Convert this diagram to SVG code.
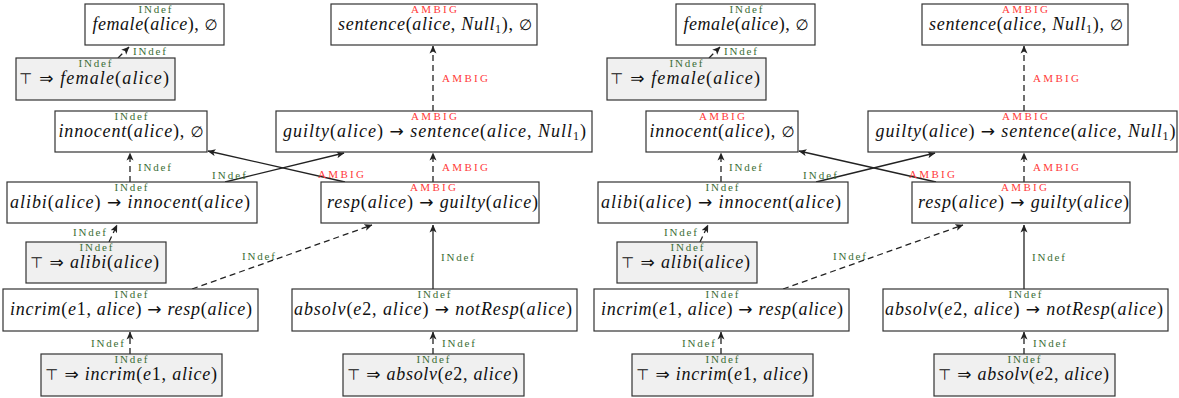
<svg xmlns="http://www.w3.org/2000/svg" width="1179" height="398" viewBox="0 0 1179 398">
<style>
.box{fill:#fff;stroke:#333;stroke-width:1.2}
.fact{fill:#f0f0f0}
.t{font-family:"Liberation Serif","DejaVu Serif",serif;font-size:18px;font-style:italic;fill:#111;text-anchor:middle}
.u{font-style:normal}
.s{font-style:normal;font-family:"DejaVu Sans",sans-serif;font-size:15px}
.a{font-style:normal;font-family:"DejaVu Sans",sans-serif;font-size:17px}
.l{font-family:"Liberation Serif","DejaVu Serif",serif;font-size:11px;fill:#3b6e35}
.r{fill:#ff3a3a}
.c{text-anchor:middle}
.e{stroke:#222;stroke-width:1.3;fill:none;marker-end:url(#ah)}
.d{stroke-dasharray:6 4}
</style>
<defs>
<marker id="ah" viewBox="0 0 8 8" refX="7.5" refY="4" markerWidth="8" markerHeight="8" markerUnits="userSpaceOnUse" orient="auto">
<path d="M0,0.5 L8,4 L0,7.5 L2,4 Z" fill="#222"/>
</marker>
</defs>

<!-- LEFT PANEL -->
<g id="connectors-left">
<line class="e d" x1="118" y1="58" x2="129" y2="47"/>
<text class="l" x="133" y="55" textLength="33">INdef</text>
<line class="e d" x1="433" y1="111" x2="433" y2="46"/>
<text class="l r" x="442" y="82" textLength="46">AMBIG</text>
<line class="e d" x1="130" y1="182" x2="130" y2="153"/>
<text class="l" x="138" y="171" textLength="33">INdef</text>
<line class="e d" x1="433" y1="182" x2="433" y2="153"/>
<text class="l r" x="442" y="171" textLength="46">AMBIG</text>
<line class="e" x1="225" y1="182" x2="344" y2="153"/>
<text class="l" x="212" y="179" textLength="34">INdef</text>
<line class="e" x1="345" y1="182" x2="208" y2="151"/>
<text class="l r" x="318" y="178" textLength="46">AMBIG</text>
<line class="e d" x1="109" y1="242" x2="117" y2="225"/>
<text class="l" x="73" y="236" textLength="33">INdef</text>
<line class="e d" x1="192" y1="289" x2="372" y2="225"/>
<text class="l" x="242" y="260" textLength="33">INdef</text>
<line class="e" x1="433" y1="289" x2="433" y2="225"/>
<text class="l" x="441" y="261" textLength="33">INdef</text>
<line class="e d" x1="130" y1="354" x2="130" y2="332"/>
<text class="l" x="91" y="347" textLength="33">INdef</text>
<line class="e d" x1="433" y1="354" x2="433" y2="332"/>
<text class="l" x="442" y="347" textLength="33">INdef</text>
</g>

<g id="L-female">
<rect class="box" x="85" y="4" width="139" height="41"/>
<text class="l c" x="155" y="13" textLength="33">INdef</text>
<text class="t" x="155" y="30" textLength="125" lengthAdjust="spacing">female<tspan class="u">(</tspan>alice<tspan class="u">), </tspan><tspan class="s">∅</tspan></text>
</g>
<g id="L-top-female">
<rect class="box fact" x="16" y="58" width="159" height="42"/>
<text class="l c" x="95" y="67" textLength="33">INdef</text>
<text class="t" x="94" y="84" textLength="150" lengthAdjust="spacing"><tspan class="s">⊤ </tspan><tspan class="a">⇒</tspan><tspan class="u"> </tspan>female<tspan class="u">(</tspan>alice<tspan class="u">)</tspan></text>
</g>
<g id="L-sentence">
<rect class="box" x="331" y="4" width="206" height="41"/>
<text class="l r c" x="434" y="13" textLength="46">AMBIG</text>
<text class="t" x="435" y="30" textLength="194" lengthAdjust="spacing">sentence<tspan class="u">(</tspan>alice<tspan class="u">, </tspan>Null<tspan class="u" font-size="12" dy="3">1</tspan><tspan class="u" dy="-3">), </tspan><tspan class="s">∅</tspan></text>
</g>
<g id="L-innocent">
<rect class="box" x="55" y="111" width="152" height="41"/>
<text class="l c" x="131" y="120" textLength="33">INdef</text>
<text class="t" x="131" y="137" textLength="145" lengthAdjust="spacing">innocent<tspan class="u">(</tspan>alice<tspan class="u">), </tspan><tspan class="s">∅</tspan></text>
</g>
<g id="L-guilty">
<rect class="box" x="276" y="111" width="316" height="41"/>
<text class="l r c" x="434" y="120" textLength="46">AMBIG</text>
<text class="t" x="434.5" y="137" textLength="303" lengthAdjust="spacing">guilty<tspan class="u">(</tspan>alice<tspan class="u">) </tspan><tspan class="a">→</tspan><tspan class="u"> </tspan>sentence<tspan class="u">(</tspan>alice<tspan class="u">, </tspan>Null<tspan class="u" font-size="12" dy="3">1</tspan><tspan class="u" dy="-3">)</tspan></text>
</g>
<g id="L-alibi-rule">
<rect class="box" x="7" y="182" width="250" height="41"/>
<text class="l c" x="131" y="191" textLength="33">INdef</text>
<text class="t" x="130" y="208" textLength="240" lengthAdjust="spacing">alibi<tspan class="u">(</tspan>alice<tspan class="u">) </tspan><tspan class="a">→</tspan><tspan class="u"> </tspan>innocent<tspan class="u">(</tspan>alice<tspan class="u">)</tspan></text>
</g>
<g id="L-resp-rule">
<rect class="box" x="321" y="182" width="218" height="41"/>
<text class="l r c" x="433" y="191" textLength="46">AMBIG</text>
<text class="t" x="432.5" y="208" textLength="211" lengthAdjust="spacing">resp<tspan class="u">(</tspan>alice<tspan class="u">) </tspan><tspan class="a">→</tspan><tspan class="u"> </tspan>guilty<tspan class="u">(</tspan>alice<tspan class="u">)</tspan></text>
</g>
<g id="L-top-alibi">
<rect class="box fact" x="26" y="242" width="140" height="41"/>
<text class="l c" x="96" y="251" textLength="33">INdef</text>
<text class="t" x="94.5" y="268" textLength="129" lengthAdjust="spacing"><tspan class="s">⊤ </tspan><tspan class="a">⇒</tspan><tspan class="u"> </tspan>alibi<tspan class="u">(</tspan>alice<tspan class="u">)</tspan></text>
</g>
<g id="L-incrim-rule">
<rect class="box" x="3" y="289" width="255" height="42"/>
<text class="l c" x="131" y="298" textLength="33">INdef</text>
<text class="t" x="131" y="315" textLength="242" lengthAdjust="spacing">incrim<tspan class="u">(</tspan>e<tspan class="u">1, </tspan>alice<tspan class="u">) </tspan><tspan class="a">→</tspan><tspan class="u"> </tspan>resp<tspan class="u">(</tspan>alice<tspan class="u">)</tspan></text>
</g>
<g id="L-absolv-rule">
<rect class="box" x="292" y="289" width="285" height="42"/>
<text class="l c" x="434" y="298" textLength="33">INdef</text>
<text class="t" x="433" y="315" textLength="278" lengthAdjust="spacing">absolv<tspan class="u">(</tspan>e<tspan class="u">2, </tspan>alice<tspan class="u">) </tspan><tspan class="a">→</tspan><tspan class="u"> </tspan>notResp<tspan class="u">(</tspan>alice<tspan class="u">)</tspan></text>
</g>
<g id="L-top-incrim">
<rect class="box fact" x="41" y="354" width="181" height="42"/>
<text class="l c" x="131" y="363" textLength="33">INdef</text>
<text class="t" x="131" y="380" textLength="172" lengthAdjust="spacing"><tspan class="s">⊤ </tspan><tspan class="a">⇒</tspan><tspan class="u"> </tspan>incrim<tspan class="u">(</tspan>e<tspan class="u">1, </tspan>alice<tspan class="u">)</tspan></text>
</g>
<g id="L-top-absolv">
<rect class="box fact" x="343" y="354" width="181" height="42"/>
<text class="l c" x="433" y="363" textLength="33">INdef</text>
<text class="t" x="432.5" y="380" textLength="171" lengthAdjust="spacing"><tspan class="s">⊤ </tspan><tspan class="a">⇒</tspan><tspan class="u"> </tspan>absolv<tspan class="u">(</tspan>e<tspan class="u">2, </tspan>alice<tspan class="u">)</tspan></text>
</g>

<!-- RIGHT PANEL (offset 591) -->
<g id="connectors-right">
<line class="e d" x1="709" y1="58" x2="720" y2="47"/>
<text class="l" x="724" y="55" textLength="33">INdef</text>
<line class="e d" x1="1024" y1="111" x2="1024" y2="46"/>
<text class="l r" x="1033" y="82" textLength="46">AMBIG</text>
<line class="e d" x1="721" y1="182" x2="721" y2="153"/>
<text class="l" x="729" y="171" textLength="33">INdef</text>
<line class="e d" x1="1024" y1="182" x2="1024" y2="153"/>
<text class="l r" x="1033" y="171" textLength="46">AMBIG</text>
<line class="e" x1="816" y1="182" x2="935" y2="153"/>
<text class="l" x="803" y="179" textLength="34">INdef</text>
<line class="e" x1="936" y1="182" x2="799" y2="151"/>
<text class="l r" x="909" y="178" textLength="46">AMBIG</text>
<line class="e d" x1="700" y1="242" x2="708" y2="225"/>
<text class="l" x="664" y="236" textLength="33">INdef</text>
<line class="e d" x1="783" y1="289" x2="963" y2="225"/>
<text class="l" x="833" y="260" textLength="33">INdef</text>
<line class="e" x1="1024" y1="289" x2="1024" y2="225"/>
<text class="l" x="1032" y="261" textLength="33">INdef</text>
<line class="e d" x1="721" y1="354" x2="721" y2="332"/>
<text class="l" x="682" y="347" textLength="33">INdef</text>
<line class="e d" x1="1024" y1="354" x2="1024" y2="332"/>
<text class="l" x="1033" y="347" textLength="33">INdef</text>
</g>

<g id="R-female">
<rect class="box" x="676" y="4" width="139" height="41"/>
<text class="l c" x="746" y="13" textLength="33">INdef</text>
<text class="t" x="746" y="30" textLength="125" lengthAdjust="spacing">female<tspan class="u">(</tspan>alice<tspan class="u">), </tspan><tspan class="s">∅</tspan></text>
</g>
<g id="R-top-female">
<rect class="box fact" x="607" y="58" width="159" height="42"/>
<text class="l c" x="686" y="67" textLength="33">INdef</text>
<text class="t" x="685" y="84" textLength="150" lengthAdjust="spacing"><tspan class="s">⊤ </tspan><tspan class="a">⇒</tspan><tspan class="u"> </tspan>female<tspan class="u">(</tspan>alice<tspan class="u">)</tspan></text>
</g>
<g id="R-sentence">
<rect class="box" x="922" y="4" width="206" height="41"/>
<text class="l r c" x="1025" y="13" textLength="46">AMBIG</text>
<text class="t" x="1026" y="30" textLength="194" lengthAdjust="spacing">sentence<tspan class="u">(</tspan>alice<tspan class="u">, </tspan>Null<tspan class="u" font-size="12" dy="3">1</tspan><tspan class="u" dy="-3">), </tspan><tspan class="s">∅</tspan></text>
</g>
<g id="R-innocent">
<rect class="box" x="646" y="111" width="152" height="41"/>
<text class="l r c" x="722" y="120" textLength="46">AMBIG</text>
<text class="t" x="722" y="137" textLength="145" lengthAdjust="spacing">innocent<tspan class="u">(</tspan>alice<tspan class="u">), </tspan><tspan class="s">∅</tspan></text>
</g>
<g id="R-guilty">
<rect class="box" x="868" y="111" width="309" height="41"/>
<text class="l r c" x="1025" y="120" textLength="46">AMBIG</text>
<text class="t" x="1025.5" y="137" textLength="300" lengthAdjust="spacing">guilty<tspan class="u">(</tspan>alice<tspan class="u">) </tspan><tspan class="a">→</tspan><tspan class="u"> </tspan>sentence<tspan class="u">(</tspan>alice<tspan class="u">, </tspan>Null<tspan class="u" font-size="12" dy="3">1</tspan><tspan class="u" dy="-3">)</tspan></text>
</g>
<g id="R-alibi-rule">
<rect class="box" x="598" y="182" width="250" height="41"/>
<text class="l c" x="722" y="191" textLength="33">INdef</text>
<text class="t" x="721" y="208" textLength="240" lengthAdjust="spacing">alibi<tspan class="u">(</tspan>alice<tspan class="u">) </tspan><tspan class="a">→</tspan><tspan class="u"> </tspan>innocent<tspan class="u">(</tspan>alice<tspan class="u">)</tspan></text>
</g>
<g id="R-resp-rule">
<rect class="box" x="912" y="182" width="218" height="41"/>
<text class="l r c" x="1024" y="191" textLength="46">AMBIG</text>
<text class="t" x="1023.5" y="208" textLength="211" lengthAdjust="spacing">resp<tspan class="u">(</tspan>alice<tspan class="u">) </tspan><tspan class="a">→</tspan><tspan class="u"> </tspan>guilty<tspan class="u">(</tspan>alice<tspan class="u">)</tspan></text>
</g>
<g id="R-top-alibi">
<rect class="box fact" x="617" y="242" width="140" height="41"/>
<text class="l c" x="687" y="251" textLength="33">INdef</text>
<text class="t" x="685.5" y="268" textLength="129" lengthAdjust="spacing"><tspan class="s">⊤ </tspan><tspan class="a">⇒</tspan><tspan class="u"> </tspan>alibi<tspan class="u">(</tspan>alice<tspan class="u">)</tspan></text>
</g>
<g id="R-incrim-rule">
<rect class="box" x="594" y="289" width="255" height="42"/>
<text class="l c" x="722" y="298" textLength="33">INdef</text>
<text class="t" x="722" y="315" textLength="242" lengthAdjust="spacing">incrim<tspan class="u">(</tspan>e<tspan class="u">1, </tspan>alice<tspan class="u">) </tspan><tspan class="a">→</tspan><tspan class="u"> </tspan>resp<tspan class="u">(</tspan>alice<tspan class="u">)</tspan></text>
</g>
<g id="R-absolv-rule">
<rect class="box" x="883" y="289" width="285" height="42"/>
<text class="l c" x="1025" y="298" textLength="33">INdef</text>
<text class="t" x="1024" y="315" textLength="278" lengthAdjust="spacing">absolv<tspan class="u">(</tspan>e<tspan class="u">2, </tspan>alice<tspan class="u">) </tspan><tspan class="a">→</tspan><tspan class="u"> </tspan>notResp<tspan class="u">(</tspan>alice<tspan class="u">)</tspan></text>
</g>
<g id="R-top-incrim">
<rect class="box fact" x="632" y="354" width="181" height="42"/>
<text class="l c" x="722" y="363" textLength="33">INdef</text>
<text class="t" x="722" y="380" textLength="172" lengthAdjust="spacing"><tspan class="s">⊤ </tspan><tspan class="a">⇒</tspan><tspan class="u"> </tspan>incrim<tspan class="u">(</tspan>e<tspan class="u">1, </tspan>alice<tspan class="u">)</tspan></text>
</g>
<g id="R-top-absolv">
<rect class="box fact" x="934" y="354" width="181" height="42"/>
<text class="l c" x="1024" y="363" textLength="33">INdef</text>
<text class="t" x="1023.5" y="380" textLength="171" lengthAdjust="spacing"><tspan class="s">⊤ </tspan><tspan class="a">⇒</tspan><tspan class="u"> </tspan>absolv<tspan class="u">(</tspan>e<tspan class="u">2, </tspan>alice<tspan class="u">)</tspan></text>
</g>
</svg>
